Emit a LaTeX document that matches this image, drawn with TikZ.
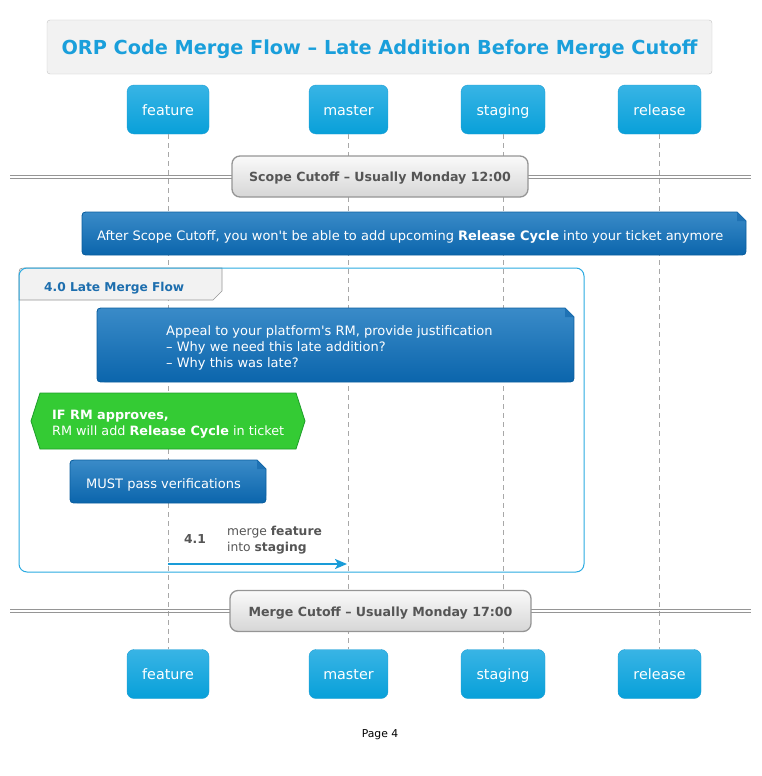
\documentclass[tikz,border=0pt]{standalone}
\usepackage{fontspec}
\setmainfont{DejaVu Sans}[Ligatures=TeXOff]
\usetikzlibrary{arrows.meta}
\definecolor{partTop}{HTML}{38B4E5}
\definecolor{partBot}{HTML}{08A0D9}
\definecolor{partBorder}{HTML}{1E9ED4}
\definecolor{titleBlue}{HTML}{1A9FDB}
\definecolor{titleFill}{HTML}{F2F2F2}
\definecolor{titleBorder}{HTML}{C4C4C4}
\definecolor{divTop}{HTML}{FAFAFA}
\definecolor{divBot}{HTML}{D6D6D6}
\definecolor{divBorder}{HTML}{959595}
\definecolor{divText}{HTML}{555555}
\definecolor{noteTop}{HTML}{3A8BC8}
\definecolor{noteBot}{HTML}{0B65AC}
\definecolor{noteBorder}{HTML}{0A5E9E}
\definecolor{noteFold}{HTML}{1F72B4}
\definecolor{grpBorder}{HTML}{2AAAE1}
\definecolor{grpText}{HTML}{1D6EAE}
\definecolor{hexFill}{HTML}{34CB34}
\definecolor{hexBorder}{HTML}{1E9E2A}
\definecolor{msgBlue}{HTML}{1A9CD8}
\definecolor{lifeGray}{HTML}{A8A8A8}
\newcommand\notebg[4]{%
  \path[top color=noteTop,bottom color=noteBot,draw=noteBorder,line width=0.8pt]
    (#1,#2+8) .. controls (#1,#2) .. (#1+8,#2) -- (#3-9,#2) -- (#3,#2+9)
    -- (#3,#4-8) .. controls (#3,#4) .. (#3-8,#4) -- (#1+8,#4)
    .. controls (#1,#4) .. (#1,#4-8) -- cycle;
  \fill[noteFold] (#3-9,#2) -- (#3-9,#2+9) -- (#3,#2+9) -- cycle;}
\begin{document}
\begin{tikzpicture}[x=1pt,y=-1pt,
  part/.style={draw=partBorder,rounded corners=7pt,top color=partTop,bottom color=partBot,
    text=white,minimum height=49pt,inner sep=0pt,text height=14.5pt,text depth=3pt,
    font=\fontsize{14.3}{16}\selectfont},
  lifeline/.style={draw=lifeGray,dash pattern=on 5pt off 4pt,line width=0.6pt},
  divbox/.style={draw=divBorder,line width=1.3pt,rounded corners=8pt,top color=divTop,bottom color=divBot,
    text=divText,minimum height=41pt,inner sep=0pt,text height=12.4pt,text depth=2pt,
    font=\fontsize{12.6}{15}\selectfont\bfseries},
  dline/.style={draw=divBorder,line width=0.9pt},
  notetext/.style={text=white,anchor=west,align=left,inner sep=0pt,font=\fontsize{13}{16}\selectfont},
  msgline/.style={draw=msgBlue,line width=2.2pt,-{Stealth[length=12pt,width=10pt,inset=3pt]}},
  msgtext/.style={text=divText,inner sep=0pt,font=\fontsize{12.3}{16}\selectfont}]
\useasboundingbox (0,0) rectangle (762,776);
% title
\node[draw=titleBorder,fill=titleFill,rounded corners=3pt,minimum width=665pt,minimum height=54pt,
  text height=19pt,text depth=4.2pt,
  text=titleBlue,font=\fontsize{19.3}{22}\selectfont\bfseries] (title) at (379.5,47)
  {ORP Code Merge Flow – Late Addition Before Merge Cutoff};
% participants
\node[part,minimum width=82pt] (ftop) at (168,109.5) {feature};
\node[part,minimum width=79pt] (mtop) at (348.5,109.5) {master};
\node[part,minimum width=84pt] (stop) at (503,109.5) {staging};
\node[part,minimum width=83pt] (rtop) at (659.5,109.5) {release};
\node[part,minimum width=82pt] (fbot) at (168,674) {feature};
\node[part,minimum width=79pt] (mbot) at (348.5,674) {master};
\node[part,minimum width=84pt] (sbot) at (503,674) {staging};
\node[part,minimum width=83pt] (rbot) at (659.5,674) {release};
% lifelines
\draw[lifeline] (ftop.south) -- (fbot.north);
\draw[lifeline] (mtop.south) -- (mbot.north);
\draw[lifeline] (stop.south) -- (sbot.north);
\draw[lifeline] (rtop.south) -- (rbot.north);
% divider 1
\coordinate (d1l) at (10,175.3);
\coordinate (d1r) at (751,175.3);
\coordinate (d1l2) at (10,178.3);
\coordinate (d1r2) at (751,178.3);
\draw[dline] (d1l) -- (d1r);
\draw[dline] (d1l2) -- (d1r2);
\node[divbox,minimum width=296pt] (div1) at (380,176.5) {Scope Cutoff – Usually Monday 12:00};
% note 1
\notebg{82}{212}{746}{255}
\node[notetext] (note1) at (97,237) {After Scope Cutoff, you won't be able to add upcoming \textbf{Release Cycle} into your ticket anymore};
% group
\path[fill=titleFill,draw=divBorder,line width=0.6pt] (19,300) -- (19,276) .. controls (19,268) .. (27,268)
  -- (222,268) -- (222,291) -- (213,300) -- cycle;
\draw[grpBorder,line width=1pt,rounded corners=8pt] (19,268) rectangle (584,572);
\node[anchor=west,inner sep=0pt,text=grpText,font=\fontsize{12.2}{14}\selectfont\bfseries] (grp) at (44,288) {4.0 Late Merge Flow};
% note 2
\notebg{97}{308}{574}{382}
\node[notetext] (note2) at (166,348) {Appeal to your platform's RM, provide justification\\– Why we need this late addition?\\– Why this was late?};
% hexagon
\path[fill=hexFill,draw=hexBorder,line width=0.8pt] (40,393) -- (296,393) -- (305,421) -- (296,449) -- (40,449) -- (31,421) -- cycle;
\node[notetext,font=\fontsize{12.8}{16}\selectfont] (hex) at (52,424) {\textbf{IF RM approves,}\\RM will add \textbf{Release Cycle} in ticket};
% note 3
\notebg{70}{460}{266}{503}
\node[notetext] (note3) at (86,485) {MUST pass verifications};
% message
\coordinate (m1) at (168,564);
\coordinate (m2) at (347,564);
\draw[msgline] (m1) -- (m2);
\node[msgtext,font=\fontsize{12.3}{16}\selectfont\bfseries] (num) at (195,539.5) {4.1};
\node[msgtext,anchor=west,align=left] (msg) at (227,540) {merge \textbf{feature}\\into \textbf{staging}};
% divider 2
\coordinate (d2l) at (10,609.5);
\coordinate (d2r) at (751,609.5);
\coordinate (d2l2) at (10,612.5);
\coordinate (d2r2) at (751,612.5);
\draw[dline] (d2l) -- (d2r);
\draw[dline] (d2l2) -- (d2r2);
\node[divbox,minimum width=301pt] (div2) at (380.5,611) {Merge Cutoff – Usually Monday 17:00};
% footer
\node[inner sep=0pt,font=\fontsize{10.8}{13}\selectfont] (page) at (380,735) {Page 4};
\end{tikzpicture}
\end{document}
